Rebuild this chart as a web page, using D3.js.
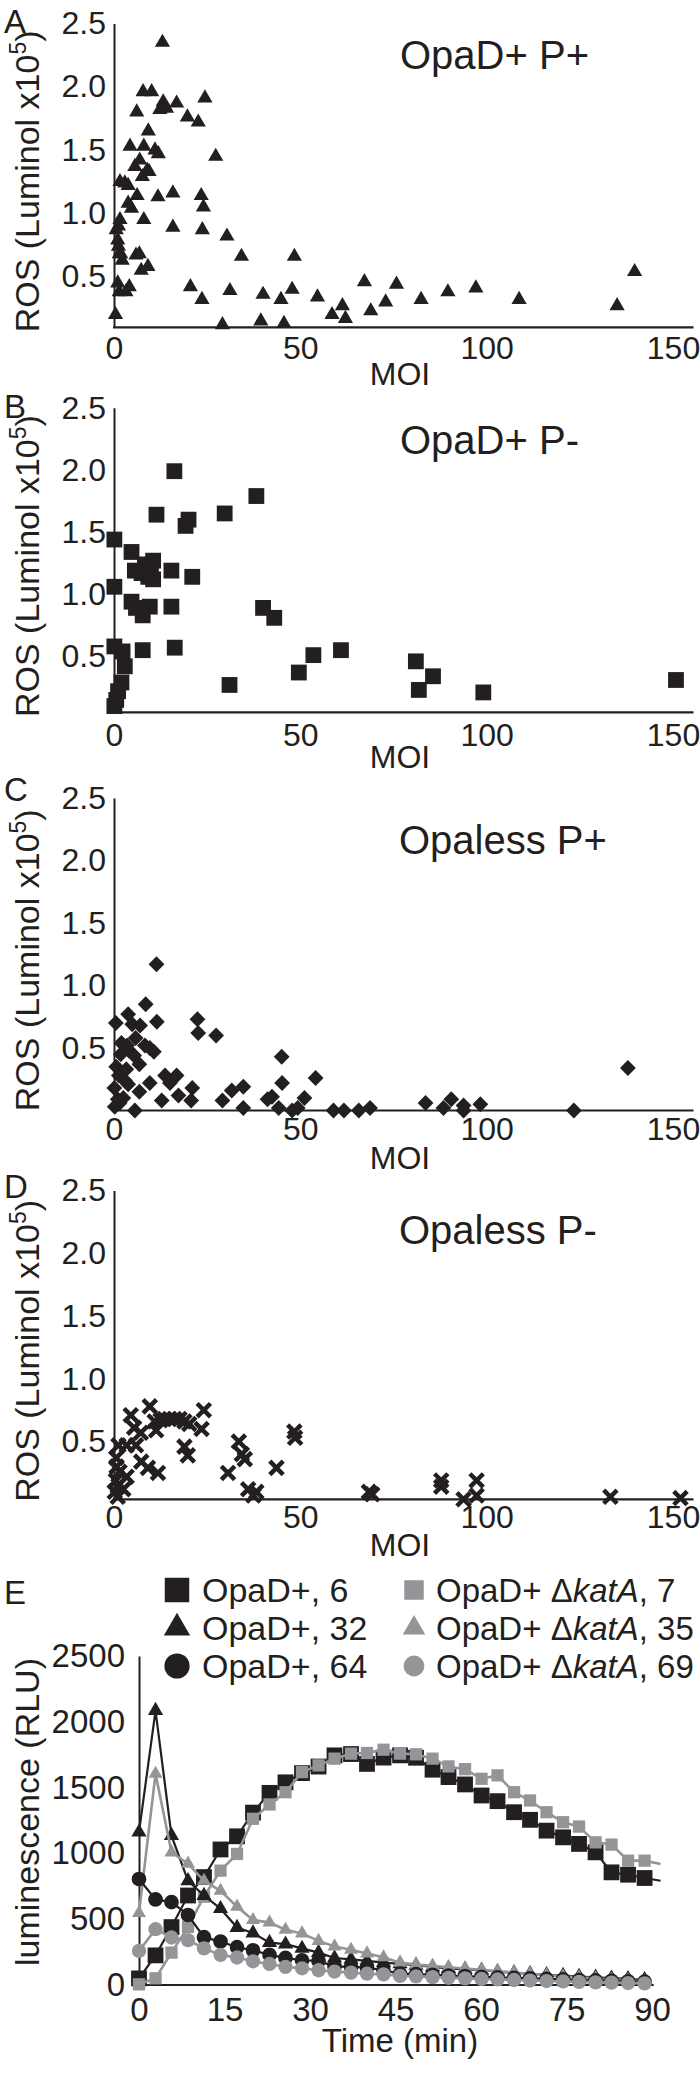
<!DOCTYPE html>
<html><head><meta charset="utf-8">
<script src="https://cdn.jsdelivr.net/npm/d3@7"></script>
<style>body{margin:0;background:#fff}svg{display:block}</style>
</head><body><svg id="chart" width="700" height="2073"></svg>
<script>
// ---------------- DATA ----------------
const moiTicks = [0, 50, 100, 150];
const rosTicks = [0.5, 1.0, 1.5, 2.0, 2.5];
const panelLetters = ["A", "B", "C", "D"];
const panelTitles = ["OpaD+ P+", "OpaD+ P-", "Opaless P+", "Opaless P-"];
const yTitleMain = "ROS (Luminol x10";
const yTitleSup = "5";
const xTitleMOI = "MOI";

// [MOI, ROS (x10^5)]
const opaDPplus = [[0.4,0.20],[0.6,0.87],[1.0,0.79],[1.2,0.74],[1.4,0.68],[1.8,0.68],[2.2,0.63],[1.0,0.45],[1.4,0.38],[3.2,0.38],[4.1,0.42],[1.2,0.90],[1.6,0.95],[1.6,1.25],[2.9,1.24],[3.8,1.22],[3.8,1.08],[4.7,1.04],[4.3,1.53],[5.6,1.37],[6.9,1.42],[7.6,1.29],[8.9,1.34],[9.4,1.33],[6.2,1.14],[8.0,0.95],[5.9,0.67],[6.8,0.68],[9.1,0.58],[7.3,0.55],[6.1,1.80],[7.8,1.96],[10.1,1.96],[9.2,1.65],[8.0,1.53],[11.0,1.50],[11.9,1.47],[11.8,1.13],[13.0,2.35],[13.2,1.88],[14.1,1.83],[12.3,1.82],[16.8,1.87],[19.7,1.76],[22.6,1.72],[24.4,1.91],[27.3,1.45],[15.8,1.16],[15.8,0.89],[23.4,1.14],[24.0,1.05],[23.7,0.87],[30.3,0.82],[34.2,0.66],[20.5,0.42],[23.6,0.32],[31.1,0.39],[29.1,0.12],[40.0,0.36],[39.4,0.15],[44.8,0.32],[45.6,0.13],[47.8,0.40],[48.4,0.66],[54.6,0.34],[58.5,0.20],[61.3,0.27],[62.1,0.17],[67.2,0.46],[68.9,0.23],[72.9,0.30],[75.8,0.44],[82.4,0.32],[89.6,0.38],[97.1,0.41],[108.7,0.32],[135.0,0.27],[139.7,0.54]];
const opaDPminus = [[16.2,1.99],[38.2,1.79],[11.4,1.64],[29.7,1.65],[20.0,1.60],[19.2,1.55],[0.1,1.44],[4.7,1.34],[10.5,1.27],[8.3,1.24],[5.6,1.19],[7.4,1.17],[9.2,1.14],[10.5,1.12],[9.9,1.20],[15.4,1.19],[21.0,1.14],[0.1,1.06],[4.7,0.94],[5.9,0.89],[7.7,0.83],[9.6,0.90],[15.4,0.90],[40.0,0.89],[43.0,0.81],[0.1,0.58],[2.3,0.54],[7.7,0.55],[16.3,0.57],[2.9,0.42],[2.0,0.29],[1.1,0.22],[0.6,0.15],[0.1,0.10],[31.0,0.27],[49.6,0.37],[53.5,0.51],[60.9,0.55],[81.0,0.46],[81.8,0.23],[85.6,0.34],[99.1,0.21],[150.8,0.31]];
const opalessPplus = [[11.4,1.17],[8.5,0.85],[3.8,0.77],[11.5,0.71],[0.5,0.70],[4.9,0.69],[7.0,0.68],[22.4,0.73],[22.6,0.62],[27.4,0.60],[5.8,0.58],[2.0,0.54],[3.5,0.52],[8.3,0.52],[9.6,0.50],[10.7,0.47],[4.0,0.48],[5.4,0.44],[6.8,0.37],[0.6,0.35],[1.3,0.28],[3.3,0.33],[1.8,0.45],[13.7,0.28],[16.8,0.28],[15.0,0.22],[2.9,0.24],[3.8,0.21],[9.6,0.22],[6.8,0.15],[21.0,0.18],[20.7,0.08],[31.6,0.16],[34.7,0.19],[0.1,0.18],[1.0,0.09],[2.5,0.10],[0.2,0.03],[1.5,0.06],[12.8,0.08],[17.3,0.12],[29.1,0.08],[34.7,0.02],[5.6,0.0],[45.0,0.43],[45.1,0.22],[54.1,0.26],[41.2,0.09],[42.4,0.11],[44.2,0.02],[47.8,0.0],[49.3,0.02],[51.1,0.10],[58.9,0.0],[61.7,0.0],[65.7,0.0],[68.7,0.02],[83.6,0.06],[88.4,0.02],[90.5,0.09],[93.8,0.04],[93.8,0.0],[98.3,0.05],[123.4,0.0],[137.9,0.34]];
const opalessPminus = [[9.6,0.78],[4.5,0.71],[24.1,0.75],[10.9,0.66],[12.5,0.67],[13.5,0.68],[14.9,0.68],[16.2,0.68],[17.6,0.68],[18.9,0.66],[20.2,0.64],[5.4,0.61],[7.2,0.57],[11.3,0.59],[23.5,0.60],[48.4,0.58],[48.6,0.53],[33.5,0.50],[34.3,0.40],[1.2,0.47],[3.4,0.47],[5.9,0.47],[18.9,0.46],[19.8,0.39],[7.3,0.34],[9.1,0.29],[11.8,0.25],[0.6,0.37],[0.7,0.30],[1.5,0.26],[3.4,0.22],[0.5,0.19],[1.2,0.15],[0.2,0.10],[1.0,0.06],[2.5,0.12],[30.6,0.25],[43.6,0.29],[35.1,0.36],[36.0,0.12],[38.2,0.10],[37.4,0.07],[68.4,0.10],[69.3,0.08],[87.8,0.19],[87.8,0.14],[93.8,0.04],[97.3,0.19],[97.3,0.07],[133.2,0.06],[152.0,0.05]];

// Panel E
const timeMin = [0,2.9,5.7,8.6,11.4,14.3,17.2,20.0,22.9,25.7,28.6,31.5,34.3,37.2,40.0,42.9,45.8,48.6,51.5,54.3,57.2,60.1,62.9,65.8,68.6,71.5,74.4,77.2,80.1,82.9,85.8,88.7,91.5];
const timeTicks = [0, 15, 30, 45, 60, 75, 90];
const lumTicks = [0, 500, 1000, 1500, 2000, 2500];
const opaD_6  = [50,225,440,680,820,1030,1130,1310,1460,1540,1610,1660,1745,1755,1680,1728,1745,1727,1636,1580,1524,1440,1397,1313,1255,1173,1122,1072,1008,856,838,813,792];
const opaD_32 = [1161,2085,1135,792,680,580,437,395,322,310,278,246,205,195,183,170,160,150,137,127,119,112,101,92,86,78,72,64,58,52,47,40];
const opaD_64 = [805,650,630,532,363,330,287,264,229,206,188,183,141,137,132,112,86,82,78,72,68,62,58,54,50,46,42,38,35,32,28,25];
const katA_7  = [5,51,246,442,671,869,996,1263,1372,1465,1618,1669,1720,1758,1763,1788,1758,1753,1720,1661,1640,1567,1593,1465,1402,1313,1237,1204,1084,1067,945,945,920];
const katA_35 = [547,1605,1008,922,792,716,595,494,475,420,392,335,293,268,240,211,170,155,145,135,125,115,105,95,85,75,65,58,50,42,35,28];
const katA_69 = [259,424,361,341,278,229,209,180,160,138,127,112,102,94,86,81,69,65,60,55,50,46,42,38,34,30,27,24,20,18,15,12];
const legendNames = ["OpaD+, 6", "OpaD+, 32", "OpaD+, 64"];
const legendKatMOI = ["7", "35", "69"];
const yTitleE = "luminescence (RLU)";
const xTitleE = "Time (min)";

// ---------------- DRAWING ----------------
const svg = d3.select("#chart");
const INK = "#231f20", GREY = "#939598";
const FONT = "'Liberation Sans', Arial, Helvetica, sans-serif";
const TICK_FS = 32;

const crossType = { draw(ctx, size) { const r = Math.sqrt(size) / 2; ctx.moveTo(-r,-r); ctx.lineTo(r,r); ctx.moveTo(-r,r); ctx.lineTo(r,-r); } };

const xMOI = d3.scaleLinear().domain([0, 150]).range([114, 673]);

const layouts = [
  {data: opaDPplus, shape: "triangle", top: 23.4, bottom: 327.4, ymin: 0.1, titleY: 69, titleX: 400, letterY: 33, tickOff: 32, moiOff: 58},
  {data: opaDPminus, shape: "square", top: 407.8, bottom: 712.3, ymin: 0.05, titleY: 454, titleX: 400, letterY: 418, tickOff: 34, moiOff: 56},
  {data: opalessPplus, shape: "diamond", top: 798, bottom: 1110.5, ymin: 0, titleY: 854, titleX: 399, letterY: 801, tickOff: 29, moiOff: 58},
  {data: opalessPminus, shape: "cross", top: 1190.5, bottom: 1499.3, ymin: 0.04, titleY: 1244, titleX: 399, letterY: 1198, tickOff: 29, moiOff: 57}
];

layouts.forEach((p, k) => {
  const y = d3.scaleLinear().domain([p.ymin, 2.5]).range([p.bottom, p.top]);
  const g = svg.append("g");
  // y axis
  const ya = g.append("g").attr("transform", `translate(${xMOI(0)},0)`)
    .call(d3.axisLeft(y).tickValues(rosTicks).tickFormat(d3.format(".1f")).tickSize(0).tickPadding(8));
  ya.select(".domain").attr("stroke", INK).attr("stroke-width", 2);
  ya.selectAll("text").attr("font-size", TICK_FS).attr("font-family", FONT).attr("fill", INK);
  // x axis
  const xa = g.append("g").attr("transform", `translate(0,${p.bottom})`)
    .call(d3.axisBottom(xMOI).tickValues(moiTicks).tickSize(0));
  xa.select(".domain").remove();
  xa.selectAll("text").attr("font-size", TICK_FS).attr("font-family", FONT).attr("fill", INK)
    .attr("y", p.tickOff).attr("dy", 0);
  g.append("line").attr("x1", xMOI(0) - 1).attr("x2", xMOI(155.5))
    .attr("y1", p.bottom).attr("y2", p.bottom).attr("stroke", INK).attr("stroke-width", 2.2);

  // markers
  let sym, fill = INK, stroke = "none", sw = 0, rot = "";
  if (p.shape === "triangle") sym = d3.symbol().type(d3.symbolTriangle).size(100);
  else if (p.shape === "square") sym = d3.symbol().type(d3.symbolSquare).size(250);
  else if (p.shape === "diamond") { sym = d3.symbol().type(d3.symbolSquare).size(125); rot = " rotate(45)"; }
  else { sym = d3.symbol().type(crossType).size(180); fill = "none"; stroke = INK; sw = 4.5; }
  g.append("g").selectAll("path").data(p.data).join("path")
    .attr("transform", d => `translate(${xMOI(d[0])},${y(d[1])})${rot}`)
    .attr("d", sym).attr("fill", fill).attr("stroke", stroke).attr("stroke-width", sw);

  // texts
  g.append("text").attr("x", 4).attr("y", p.letterY).attr("font-size", 33).attr("font-family", FONT)
    .attr("fill", INK).text(panelLetters[k]);
  g.append("text").attr("x", p.titleX).attr("y", p.titleY).attr("font-size", 40).attr("font-family", FONT)
    .attr("fill", INK).text(panelTitles[k]);
  g.append("text").attr("x", 400).attr("y", p.bottom + p.moiOff).attr("text-anchor", "middle")
    .attr("font-size", TICK_FS).attr("font-family", FONT).attr("fill", INK).text(xTitleMOI);
  const cy = (p.top + p.bottom) / 2 + 6;
  const yt = g.append("text").attr("transform", `translate(39,${cy}) rotate(-90)`).attr("text-anchor", "middle")
    .attr("font-size", 34).attr("font-family", FONT).attr("fill", INK);
  yt.append("tspan").text(yTitleMain);
  yt.append("tspan").attr("font-size", 23).attr("dy", -13).text(yTitleSup);
  yt.append("tspan").attr("dy", 13).text(")");
});

// ---------------- PANEL E ----------------
const xE = d3.scaleLinear().domain([0, 90]).range([139, 652]);
const yE = d3.scaleLinear().domain([0, 2500]).range([1985, 1656]);
const gE = svg.append("g");
const yaE = gE.append("g").attr("transform", `translate(${xE(0)},0)`)
  .call(d3.axisLeft(yE).tickValues(lumTicks).tickFormat(d3.format("d")).tickSize(0).tickPadding(14));
yaE.select(".domain").attr("stroke", INK).attr("stroke-width", 2);
yaE.selectAll("text").attr("font-size", 33).attr("font-family", FONT).attr("fill", INK);
const xaE = gE.append("g").attr("transform", `translate(0,${yE(0)})`)
  .call(d3.axisBottom(xE).tickValues(timeTicks).tickSize(0));
xaE.select(".domain").remove();
xaE.selectAll("text").attr("font-size", 33).attr("font-family", FONT).attr("fill", INK).attr("y", 36).attr("dy", 0);
gE.append("line").attr("x1", xE(0) - 1).attr("x2", xE(90.3)).attr("y1", yE(0)).attr("y2", yE(0))
  .attr("stroke", INK).attr("stroke-width", 2.2);

const seriesE = [
  {vals: opaD_6, color: INK, type: d3.symbolSquare, size: 250, lw: 2.2},
  {vals: katA_7, color: GREY, type: d3.symbolSquare, size: 150, lw: 2.6},
  {vals: opaD_32, color: INK, type: d3.symbolTriangle, size: 100, lw: 2.2},
  {vals: katA_35, color: GREY, type: d3.symbolTriangle, size: 85, lw: 2.6},
  {vals: opaD_64, color: INK, type: d3.symbolCircle, size: 170, lw: 2.2},
  {vals: katA_69, color: GREY, type: d3.symbolCircle, size: 160, lw: 2.6}
];
const lineE = d3.line().x((d, i) => xE(timeMin[i])).y(d => yE(d));
seriesE.forEach(s => {
  const sg = gE.append("g");
  sg.append("path").attr("d", lineE(s.vals)).attr("fill", "none").attr("stroke", s.color).attr("stroke-width", s.lw);
  sg.selectAll("path.m").data(s.vals.filter((d, i) => timeMin[i] <= 90)).join("path").attr("class", "m")
    .attr("transform", (d, i) => `translate(${xE(timeMin[i])},${yE(d)})`)
    .attr("d", d3.symbol().type(s.type).size(s.size)).attr("fill", s.color);
});

// legend
const legTypes = [d3.symbolSquare, d3.symbolTriangle, d3.symbolCircle];
const legBlackSizes = [600, 300, 500];
const legGreySizes = [380, 220, 340];
const legRowsY = [1602, 1640, 1678];
legRowsY.forEach((by, r) => {
  gE.append("path").attr("transform", `translate(177,${by - 12})`)
    .attr("d", d3.symbol().type(legTypes[r]).size(legBlackSizes[r])).attr("fill", INK);
  gE.append("text").attr("x", 202).attr("y", by).attr("font-size", 34).attr("font-family", FONT).attr("fill", INK)
    .text(legendNames[r]);
  gE.append("path").attr("transform", `translate(414,${by - 12})`)
    .attr("d", d3.symbol().type(legTypes[r]).size(legGreySizes[r])).attr("fill", GREY);
  const t = gE.append("text").attr("x", 436).attr("y", by).attr("font-size", 33).attr("font-family", FONT).attr("fill", INK);
  t.append("tspan").text("OpaD+ \u0394");
  t.append("tspan").attr("font-style", "italic").text("katA");
  t.append("tspan").text(", " + legendKatMOI[r]);
});

gE.append("text").attr("x", 4).attr("y", 1604).attr("font-size", 33).attr("font-family", FONT).attr("fill", INK).text("E");
gE.append("text").attr("x", 400).attr("y", 2052).attr("text-anchor", "middle").attr("font-size", 33)
  .attr("font-family", FONT).attr("fill", INK).text(xTitleE);
gE.append("text").attr("transform", `translate(39,1812) rotate(-90)`).attr("text-anchor", "middle")
  .attr("font-size", 34).attr("font-family", FONT).attr("fill", INK).text(yTitleE);
</script></body></html>
